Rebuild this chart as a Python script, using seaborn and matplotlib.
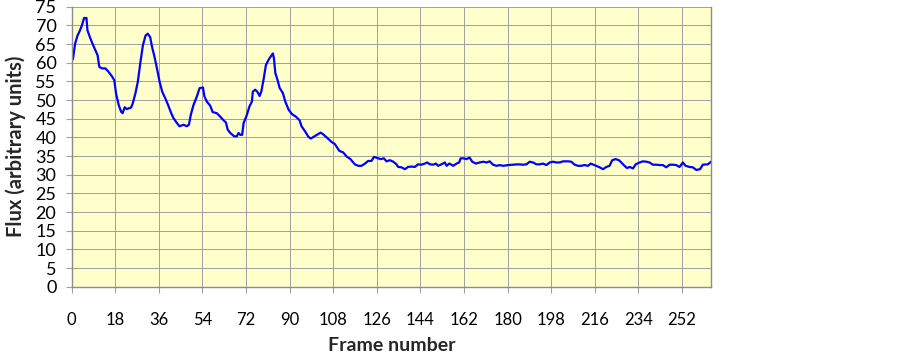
import matplotlib
matplotlib.use("Agg")
import matplotlib.pyplot as plt
import seaborn as sns
import pandas as pd

frames = [0.5, 1.4, 2.4, 3.3, 4.2, 5.1, 6.1, 6.5, 7.5, 8.6, 9.7, 10.7, 11.4, 12.5, 13.9, 15.2,
          16.6, 17.6, 18.3, 19.4, 20.4, 21.0, 21.9, 22.7, 24.5, 25.2, 26.3, 27.3, 28.3, 29.4,
          30.5, 31.4, 32.4, 33.2, 34.2, 35.2, 36.3, 37.4, 38.5, 39.8, 41.1, 42.0, 43.4, 44.5,
          46.2, 47.5, 48.4, 49.2, 50.3, 51.7, 52.8, 54.2, 54.8, 55.8, 57.2, 58.2, 59.9, 61.3,
          62.7, 63.7, 64.4, 65.5, 67.1, 68.2, 68.9, 69.6, 70.4, 71.0, 72.1, 73.4, 74.4, 74.8,
          75.8, 76.8, 77.6, 78.3, 79.2, 80.2, 81.3, 82.3, 83.1, 83.5, 84.1, 85.0, 85.9, 87.2,
          88.2, 89.6, 90.9, 92.7, 94.1, 94.9, 96.3, 97.7, 98.7, 100.0, 101.1, 102.8, 103.9,
          105.5, 107.3, 108.7, 110.5, 112.1, 113.5, 115.1, 116.9, 118.3, 119.7, 121.1, 122.4,
          123.8, 124.8, 126.2, 127.5, 128.9, 130.0, 131.4, 132.8, 134.1, 134.8, 136.2, 137.6,
          138.9, 140.3, 141.7, 143.0, 144.4, 145.8, 146.8, 147.9, 149.3, 150.4, 151.3, 152.7,
          154.1, 154.8, 155.9, 156.8, 157.5, 158.9, 160.0, 160.6, 161.9, 163.0, 164.3, 165.4,
          166.9, 168.5, 169.9, 171.3, 172.6, 174.0, 175.4, 176.8, 178.1, 180.2, 182.3, 184.3,
          186.4, 187.8, 189.1, 190.5, 191.9, 193.3, 194.6, 196.0, 197.4, 198.8, 200.1, 201.5,
          202.9, 205.0, 206.3, 207.7, 209.1, 210.4, 211.8, 213.2, 214.3, 215.5, 216.6, 218.0,
          219.4, 220.8, 222.1, 223.2, 224.6, 226.0, 226.9, 228.3, 229.3, 230.4, 231.8, 232.9,
          234.5, 235.9, 237.3, 238.6, 240.0, 241.4, 242.8, 244.1, 245.5, 246.9, 248.3, 249.6,
          251.0, 252.4, 253.5, 255.1, 256.5, 257.9, 259.5, 260.6, 262.7, 264.0]
flux = [60.9, 65.1, 67.3, 68.5, 70.0, 72.0, 72.0, 68.7, 66.9, 65.1, 63.5, 62.0, 58.9, 58.5,
        58.5, 57.6, 56.4, 55.3, 51.8, 48.7, 46.9, 46.5, 48.1, 47.6, 48.0, 49.1, 51.8, 54.9,
        59.8, 64.7, 67.3, 67.8, 66.9, 64.2, 61.6, 58.5, 54.9, 52.2, 50.7, 48.7, 46.5, 45.2,
        43.9, 43.0, 43.4, 43.0, 43.4, 46.1, 48.7, 51.0, 53.2, 53.4, 51.0, 49.6, 48.5, 46.8,
        46.5, 45.6, 44.6, 44.0, 42.1, 41.2, 40.3, 40.3, 41.2, 40.7, 40.7, 43.9, 45.6, 48.3,
        49.6, 52.3, 52.8, 52.1, 51.1, 52.3, 55.4, 59.4, 60.8, 61.8, 62.5, 61.2, 57.2, 55.4,
        53.2, 51.9, 49.6, 47.4, 46.3, 45.5, 44.6, 43.0, 41.7, 40.2, 39.7, 40.2, 40.6, 41.3,
        40.8, 39.9, 38.8, 38.2, 36.4, 36.0, 34.9, 34.2, 32.8, 32.4, 32.4, 33.0, 33.7, 33.7,
        34.8, 34.5, 34.2, 34.4, 33.6, 33.9, 33.5, 32.8, 32.1, 32.0, 31.5, 32.1, 32.2, 32.1,
        32.8, 32.7, 33.0, 33.3, 32.8, 32.7, 33.0, 32.4, 32.8, 33.3, 32.4, 33.0, 32.7, 32.4,
        33.0, 33.3, 34.4, 34.4, 34.2, 34.6, 33.5, 33.0, 33.3, 33.5, 33.3, 33.6, 32.7, 32.4,
        32.6, 32.4, 32.6, 32.7, 32.8, 32.7, 32.8, 33.5, 33.3, 32.8, 32.8, 33.0, 32.6, 33.3,
        33.5, 33.3, 33.3, 33.6, 33.6, 33.5, 32.7, 32.4, 32.4, 32.6, 32.4, 33.0, 32.7, 32.4,
        32.0, 31.5, 32.1, 32.4, 33.9, 34.2, 33.9, 33.3, 32.4, 31.8, 32.1, 31.7, 32.8, 33.3,
        33.6, 33.5, 33.3, 32.7, 32.7, 32.6, 32.6, 32.0, 32.7, 32.7, 32.6, 32.1, 33.3, 32.4,
        32.1, 32.0, 31.3, 31.5, 32.7, 32.8, 33.5]
x_ticks = list(range(0, 253, 18))
y_ticks = list(range(0, 76, 5))

sns.set_theme(style="white")
plt.rcParams['font.family'] = ['Lato', 'DejaVu Sans']

df = pd.DataFrame({"Frame number": frames, "Flux": flux})

fig = plt.figure(figsize=(9.03, 3.58), dpi=100)
ax = fig.add_axes([0.0794, 0.199, 0.7080, 0.782])
ax.set_facecolor("#FFFFCC")

sns.lineplot(data=df, x="Frame number", y="Flux", ax=ax, color="#0000FF",
             linewidth=1.6, estimator=None, sort=False)

ax.set_xlim(0, 264)
ax.set_ylim(0, 75)
ax.set_xticks(x_ticks)
ax.set_yticks(y_ticks)
ax.set_xticklabels([str(t) for t in x_ticks])
ax.set_yticklabels([str(t) for t in y_ticks])
ax.grid(True, color="#A0A0A0", linewidth=0.7)
ax.set_axisbelow(True)

for side in ["left", "bottom", "right"]:
    ax.spines[side].set_visible(True)
    ax.spines[side].set_color("#8C8C8C")
    ax.spines[side].set_linewidth(1.0)
ax.spines["top"].set_visible(False)

ax.tick_params(axis="x", direction="out", length=4, width=0.8, color="#A0A0A0",
               pad=14, labelsize=12, labelcolor="black")
ax.tick_params(axis="y", direction="out", length=4, width=0.8, color="#A0A0A0",
               pad=7, labelsize=13, labelcolor="black")
ax.tick_params(bottom=True, left=True)

ax.set_xlabel("Frame number", fontsize=14, fontweight="bold", labelpad=7)
ax.set_ylabel("Flux (arbitrary units)", fontsize=14.5, fontweight="bold", labelpad=7)

fig.savefig("out.png", dpi=100)
